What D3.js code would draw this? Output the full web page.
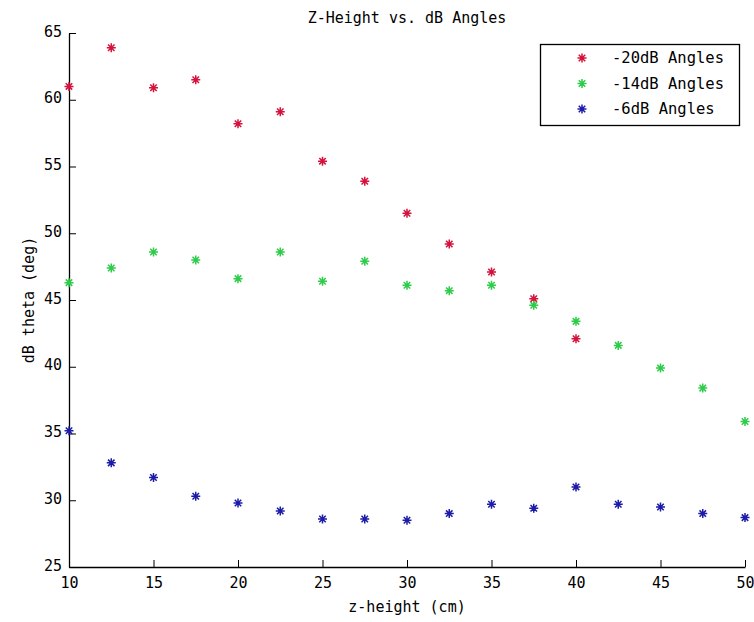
<!DOCTYPE html>
<html>
<head>
<meta charset="utf-8">
<script src="https://cdn.jsdelivr.net/npm/d3@7/dist/d3.min.js"></script>
<style>
  html, body { margin: 0; padding: 0; background: #fff; }
  svg { display: block; }
  text { font-family: "DejaVu Sans Mono", monospace; fill: #000; }
</style>
</head>
<body>
<svg id="chart" width="754" height="622"></svg>
<script>
// z-height samples (cm)
const zHeights = [10, 12.5, 15, 17.5, 20, 22.5, 25, 27.5, 30, 32.5, 35, 37.5, 40, 42.5, 45, 47.5, 50];

// beamwidth angles (deg) at each threshold
const angles20dB = [61.0, 63.9, 60.9, 61.5, 58.2, 59.1, 55.4, 53.9, 51.5, 49.2, 47.1, 45.1, 42.1];
const angles14dB = [46.3, 47.4, 48.6, 48.0, 46.6, 48.6, 46.4, 47.9, 46.1, 45.7, 46.1, 44.6, 43.4, 41.6, 39.9, 38.4, 35.9];
const angles6dB  = [35.2, 32.8, 31.7, 30.3, 29.8, 29.2, 28.6, 28.6, 28.5, 29.0, 29.7, 29.4, 31.0, 29.7, 29.5, 29.0, 28.7];

const seriesNames  = ["-20dB Angles", "-14dB Angles", "-6dB Angles"];
const seriesColors = ["#d4123c", "#2ecc4a", "#1c1ca8"];
const seriesValues = [angles20dB, angles14dB, angles6dB];

const xTicks = [10, 15, 20, 25, 30, 35, 40, 45, 50];
const yTicks = [25, 30, 35, 40, 45, 50, 55, 60, 65];

const margin = { left: 69, right: 9, top: 33, bottom: 55 };
const W = 754, H = 622;
const svg = d3.select("#chart");

const x = d3.scaleLinear().domain([10, 50]).range([margin.left, W - margin.right]);
const y = d3.scaleLinear().domain([25, 65]).range([H - margin.bottom, margin.top]);

// asterisk marker: +, then x
function star(r) {
  const d = r * 0.72;
  return `M0,${-r}V${r}M${-r},0H${r}M${-d},${-d}L${d},${d}M${-d},${d}L${d},${-d}`;
}

// axes (ticks point inward, no box)
const xAxis = d3.axisBottom(x).tickValues(xTicks).tickSizeInner(-7).tickSizeOuter(0).tickPadding(10);
const yAxis = d3.axisLeft(y).tickValues(yTicks).tickSizeInner(-7).tickSizeOuter(0).tickPadding(7);

const gx = svg.append("g").attr("transform", `translate(0,${H - margin.bottom})`).call(xAxis);
const gy = svg.append("g").attr("transform", `translate(${margin.left},0)`).call(yAxis);
[gx, gy].forEach(g => {
  g.selectAll("path.domain").attr("stroke", "#000").attr("stroke-width", 1.3);
  g.selectAll(".tick line").attr("stroke", "#000").attr("stroke-width", 1);
  g.selectAll(".tick text").attr("font-family", "DejaVu Sans Mono, monospace").attr("font-size", 15).attr("fill", "#000");
});
gy.selectAll(".tick text").attr("dy", "0.2em");

// data markers
seriesValues.forEach((vals, si) => {
  svg.append("g").selectAll("path")
    .data(vals)
    .join("path")
    .attr("transform", (v, i) => `translate(${x(zHeights[i])},${y(v)})`)
    .attr("d", star(4.5))
    .attr("stroke", seriesColors[si])
    .attr("stroke-width", 1.5)
    .attr("fill", "none");
});

// title and axis labels
svg.append("text")
  .attr("x", (margin.left + W - margin.right) / 2).attr("y", 23)
  .attr("text-anchor", "middle").attr("font-size", 15)
  .text("Z-Height vs. dB Angles");

svg.append("text")
  .attr("x", (margin.left + W - margin.right) / 2).attr("y", 612)
  .attr("text-anchor", "middle").attr("font-size", 15)
  .text("z-height (cm)");

svg.append("text")
  .attr("transform", `translate(34,${(margin.top + H - margin.bottom) / 2}) rotate(-90)`)
  .attr("text-anchor", "middle").attr("font-size", 15)
  .text("dB theta (deg)");

// legend
const legend = svg.append("g");
legend.append("rect")
  .attr("x", 540.5).attr("y", 44.5).attr("width", 199).attr("height", 81)
  .attr("fill", "#fff").attr("stroke", "#000").attr("stroke-width", 1.3);
seriesNames.forEach((name, i) => {
  const ly = 58 + i * 25.5;
  legend.append("path")
    .attr("transform", `translate(582,${ly})`)
    .attr("d", star(4.5))
    .attr("stroke", seriesColors[i]).attr("stroke-width", 1.5).attr("fill", "none");
  legend.append("text")
    .attr("x", 612).attr("y", ly).attr("dy", "0.35em")
    .attr("font-size", 15.5)
    .text(name);
});
</script>
</body>
</html>
